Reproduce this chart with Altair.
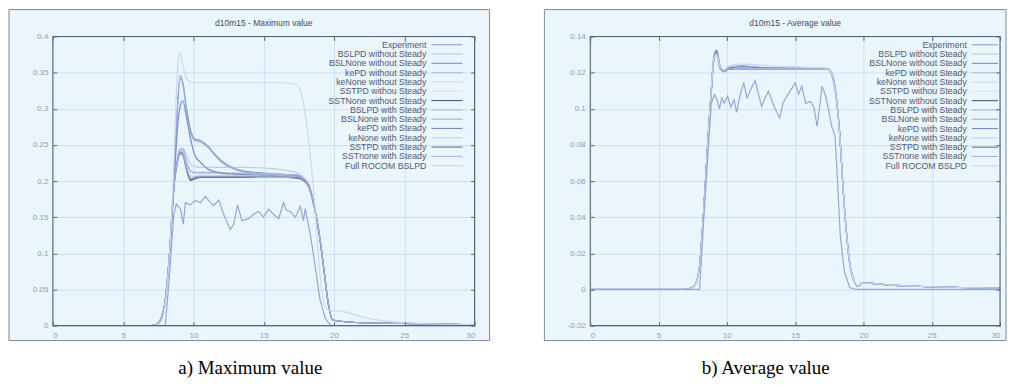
import altair as alt
import pandas as pd

SERIES = ["Experiment", "BSLPD without Steady", "BSLNone without Steady", "kePD without Steady",
          "keNone without Steady", "SSTPD withou Steady", "SSTNone without Steady", "BSLPD with Steady",
          "BSLNone with Steady", "kePD with Steady", "keNone with Steady", "SSTPD with Steady",
          "SSTnone with Steady", "Full ROCOM BSLPD"]
COLORS = ["#93a8d8", "#bccdec", "#8299cf", "#adc0e8", "#cddbf2", "#d8e3f5", "#525f82", "#a7badf",
          "#9db0de", "#7a8ec6", "#c2d1ee", "#62719f", "#a2b5e1", "#c8d6f0"]
WIDTHS = [1.2, 1.1, 1.8, 1.1, 1.1, 1.1, 2.0, 1.1, 1.4, 1.6, 1.1, 1.8, 1.1, 1.1]

X_TICKS = [0, 5, 10, 15, 20, 25, 30]
MAX_TICKS = [0, 0.05, 0.1, 0.15, 0.2, 0.25, 0.3, 0.35, 0.4]
AVG_TICKS = [-0.02, 0, 0.02, 0.04, 0.06, 0.08, 0.1, 0.12, 0.14]

# common time grid of the simulated curves
X = [0, 7.0, 7.4, 7.7, 8.0, 8.3, 8.6, 8.85, 9.05, 9.25, 9.5, 9.8, 10.1, 10.5, 11.0, 11.5, 12.0,
     12.7, 13.5, 15.0, 16.5, 17.4, 17.8, 18.2, 18.6, 19.0, 19.3, 19.6, 19.9, 20.5, 22.0, 25.0, 30.0]

# ---------------- Maximum value ----------------
MAX_EXP_X = [0, 8.0, 8.3, 8.6, 8.79, 9.08, 9.27, 9.43, 9.78, 10.14, 10.5, 10.85, 11.09, 11.44, 11.8,
             12.15, 12.62, 12.86, 13.14, 13.45, 13.92, 14.28, 14.63, 14.99, 15.35, 15.7, 16.06, 16.41,
             16.6, 16.88, 17.24, 17.6, 17.83, 17.95, 18.3, 18.66, 19.0, 19.4, 19.8, 30]
MAX_EXP_Y = [0, 0, 0.07, 0.154, 0.168, 0.161, 0.140, 0.170, 0.167, 0.173, 0.170, 0.179, 0.173, 0.166,
             0.174, 0.154, 0.133, 0.140, 0.167, 0.145, 0.148, 0.154, 0.158, 0.150, 0.161, 0.154, 0.148,
             0.170, 0.160, 0.158, 0.150, 0.165, 0.145, 0.162, 0.128, 0.082, 0.036, 0.009, 0.0, 0.0]
MAX_BSLPD_WO = [0, 0, 0.002, 0.01, 0.035, 0.10, 0.19, 0.232, 0.245, 0.246, 0.236, 0.224, 0.220,
                0.219, 0.219, 0.219, 0.219, 0.219, 0.219, 0.218, 0.215, 0.211,
                0.205, 0.195, 0.166, 0.121, 0.075, 0.03, 0.008, 0.006, 0.004, 0.003, 0.001]
MAX_BSLNONE_WO = [0, 0, 0.002, 0.01, 0.035, 0.10, 0.19, 0.30, 0.346, 0.336, 0.302, 0.27, 0.258,
                  0.256, 0.249, 0.238, 0.228, 0.219, 0.214, 0.211, 0.209, 0.208,
                  0.204, 0.195, 0.166, 0.121, 0.075, 0.03, 0.008, 0.006, 0.004, 0.003, 0.001]
MAX_KEPD_WO = [0, 0, 0.002, 0.01, 0.035, 0.10, 0.19, 0.23, 0.244, 0.243, 0.226, 0.213, 0.211,
               0.211, 0.211, 0.211, 0.211, 0.210, 0.210, 0.210, 0.209, 0.208,
               0.204, 0.194, 0.165, 0.12, 0.075, 0.03, 0.008, 0.006, 0.004, 0.003, 0.001]
MAX_KENONE_WO = [0, 0, 0.002, 0.01, 0.035, 0.10, 0.19, 0.265, 0.300, 0.307, 0.287, 0.256, 0.235,
                 0.225, 0.216, 0.212, 0.210, 0.209, 0.209, 0.208, 0.207, 0.206,
                 0.203, 0.194, 0.165, 0.12, 0.074, 0.03, 0.008, 0.006, 0.004, 0.003, 0.001]
MAX_SSTPD_WO = [0, 0, 0.002, 0.01, 0.035, 0.10, 0.19, 0.228, 0.242, 0.241, 0.222, 0.208, 0.207,
                0.208, 0.208, 0.208, 0.208, 0.208, 0.207, 0.207, 0.207, 0.206,
                0.203, 0.193, 0.164, 0.12, 0.074, 0.03, 0.008, 0.006, 0.004, 0.003, 0.001]
MAX_SSTNONE_WO = [0, 0, 0.002, 0.01, 0.035, 0.10, 0.19, 0.225, 0.238, 0.236, 0.216, 0.201, 0.203,
                  0.205, 0.205, 0.205, 0.205, 0.205, 0.205, 0.205, 0.205, 0.204,
                  0.201, 0.192, 0.163, 0.119, 0.074, 0.029, 0.008, 0.006, 0.004, 0.003, 0.001]
MAX_BSLPD_W = [0, 0, 0.002, 0.01, 0.035, 0.10, 0.19, 0.228, 0.243, 0.244, 0.228, 0.214, 0.212,
               0.212, 0.212, 0.212, 0.211, 0.211, 0.211, 0.210, 0.209, 0.208,
               0.204, 0.194, 0.165, 0.12, 0.075, 0.03, 0.008, 0.006, 0.004, 0.003, 0.001]
MAX_BSLNONE_W = [0, 0, 0.002, 0.01, 0.035, 0.10, 0.19, 0.295, 0.342, 0.333, 0.298, 0.266, 0.256,
                 0.254, 0.247, 0.236, 0.226, 0.218, 0.213, 0.210, 0.209, 0.208,
                 0.204, 0.195, 0.165, 0.12, 0.074, 0.03, 0.008, 0.006, 0.004, 0.003, 0.001]
MAX_KEPD_W = [0, 0, 0.002, 0.01, 0.035, 0.10, 0.19, 0.27, 0.304, 0.311, 0.29, 0.258, 0.236,
              0.226, 0.217, 0.213, 0.211, 0.210, 0.209, 0.208, 0.207, 0.207,
              0.203, 0.194, 0.165, 0.12, 0.075, 0.03, 0.008, 0.006, 0.004, 0.003, 0.001]
MAX_KENONE_W = [0, 0, 0.002, 0.01, 0.035, 0.10, 0.19, 0.226, 0.239, 0.237, 0.217, 0.203, 0.204,
                0.206, 0.206, 0.206, 0.206, 0.206, 0.206, 0.205, 0.205, 0.205,
                0.202, 0.193, 0.164, 0.12, 0.074, 0.03, 0.008, 0.006, 0.004, 0.003, 0.001]
MAX_SSTPD_W = [0, 0, 0.002, 0.01, 0.035, 0.10, 0.19, 0.226, 0.240, 0.238, 0.218, 0.202, 0.204,
               0.206, 0.206, 0.206, 0.206, 0.206, 0.206, 0.206, 0.206, 0.205,
               0.202, 0.193, 0.164, 0.12, 0.074, 0.029, 0.008, 0.006, 0.004, 0.003, 0.001]
MAX_SSTNONE_W = [0, 0, 0.002, 0.01, 0.035, 0.10, 0.19, 0.227, 0.241, 0.239, 0.22, 0.205, 0.206,
                 0.207, 0.207, 0.207, 0.207, 0.207, 0.207, 0.207, 0.207, 0.206,
                 0.203, 0.194, 0.165, 0.12, 0.075, 0.03, 0.008, 0.006, 0.004, 0.003, 0.001]
MAX_ROCOM = [0, 0, 0.001, 0.006, 0.03, 0.10, 0.22, 0.35, 0.378, 0.36, 0.342, 0.337, 0.336,
             0.336, 0.336, 0.336, 0.336, 0.336, 0.336, 0.336, 0.336, 0.333,
             0.31, 0.255, 0.175, 0.07, 0.03, 0.022, 0.021, 0.02, 0.012, 0.004, 0.001]

# ---------------- Average value ----------------
AVG_EXP_X = [0, 8.0, 8.4, 8.86, 9.1, 9.29, 9.45, 9.64, 9.81, 10.05, 10.29, 10.53, 10.72, 11.0, 11.24,
             11.48, 11.77, 12.08, 12.32, 12.55, 12.8, 13.04, 13.27, 13.51, 13.87, 14.11, 14.47, 14.7,
             15.01, 15.25, 15.49, 15.77, 16.13, 16.37, 16.61, 16.97, 17.2, 17.44, 17.68, 17.92, 18.1,
             18.3, 18.6, 19.0, 19.5, 30]
AVG_EXP_Y = [0, 0, 0.05, 0.1032, 0.1078, 0.105, 0.100, 0.106, 0.103, 0.107, 0.101, 0.105, 0.098,
             0.1087, 0.1142, 0.106, 0.111, 0.1156, 0.108, 0.1013, 0.106, 0.1097, 0.105, 0.1004, 0.0949,
             0.1032, 0.1078, 0.1106, 0.1143, 0.108, 0.1124, 0.103, 0.104, 0.101, 0.0903, 0.1124, 0.108,
             0.100, 0.090, 0.085, 0.06, 0.03, 0.01, 0.001, 0.0, 0.0]
AVG_BSLPD_WO = [0, 0, 0.001, 0.003, 0.013, 0.043, 0.081, 0.109, 0.127, 0.131, 0.1225, 0.1208, 0.1222,
                0.1225, 0.1226, 0.1226, 0.1225, 0.1224, 0.1224, 0.1223, 0.1223,
                0.1222, 0.116, 0.092, 0.046, 0.014, 0.005, 0.0018, 0.0035, 0.0034, 0.0024, 0.0015, 0.0008]
AVG_BSLNONE_WO = [0, 0, 0.001, 0.003, 0.013, 0.043, 0.081, 0.110, 0.129, 0.1325, 0.124, 0.1212, 0.1225,
                  0.1232, 0.1238, 0.1236, 0.1232, 0.1228, 0.1226, 0.1225, 0.1224,
                  0.1223, 0.117, 0.093, 0.047, 0.015, 0.005, 0.0018, 0.0036, 0.0035, 0.0024, 0.0015, 0.0008]
AVG_KEPD_WO = [0, 0, 0.001, 0.003, 0.013, 0.043, 0.081, 0.108, 0.126, 0.130, 0.1222, 0.1205, 0.1218,
               0.1221, 0.1222, 0.1222, 0.1222, 0.1221, 0.1221, 0.1221, 0.1221,
               0.1220, 0.115, 0.091, 0.045, 0.014, 0.005, 0.0017, 0.0034, 0.0033, 0.0023, 0.0015, 0.0008]
AVG_KENONE_WO = [0, 0, 0.001, 0.003, 0.013, 0.043, 0.081, 0.109, 0.128, 0.1315, 0.1232, 0.121, 0.1223,
                 0.1228, 0.123, 0.123, 0.1228, 0.1226, 0.1225, 0.1224, 0.1223,
                 0.1222, 0.116, 0.092, 0.046, 0.014, 0.005, 0.0018, 0.0035, 0.0034, 0.0024, 0.0015, 0.0008]
AVG_SSTPD_WO = [0, 0, 0.001, 0.003, 0.013, 0.043, 0.081, 0.108, 0.1265, 0.1305, 0.1226, 0.1206, 0.1219,
                0.1222, 0.1223, 0.1223, 0.1222, 0.1222, 0.1222, 0.1221, 0.1221,
                0.1221, 0.116, 0.092, 0.046, 0.014, 0.005, 0.0018, 0.0035, 0.0034, 0.0024, 0.0015, 0.0008]
AVG_SSTNONE_WO = [0, 0, 0.001, 0.003, 0.013, 0.043, 0.081, 0.109, 0.1275, 0.1318, 0.1228, 0.1206, 0.122,
                  0.1222, 0.1222, 0.1222, 0.1222, 0.1222, 0.1222, 0.1222, 0.1222,
                  0.1222, 0.116, 0.092, 0.046, 0.014, 0.005, 0.0018, 0.0035, 0.0034, 0.0024, 0.0015, 0.0008]
AVG_BSLPD_W = [0, 0, 0.001, 0.003, 0.013, 0.043, 0.081, 0.109, 0.127, 0.1312, 0.1227, 0.1209, 0.1222,
               0.1226, 0.1227, 0.1226, 0.1225, 0.1224, 0.1223, 0.1223, 0.1223,
               0.1222, 0.116, 0.092, 0.046, 0.014, 0.005, 0.0018, 0.0035, 0.0034, 0.0024, 0.0015, 0.0008]
AVG_BSLNONE_W = [0, 0, 0.001, 0.003, 0.013, 0.043, 0.081, 0.110, 0.1285, 0.132, 0.1236, 0.1212, 0.1226,
                 0.1234, 0.1236, 0.1234, 0.1231, 0.1227, 0.1225, 0.1224, 0.1224,
                 0.1223, 0.117, 0.093, 0.047, 0.015, 0.005, 0.0018, 0.0036, 0.0035, 0.0024, 0.0015, 0.0008]
AVG_KEPD_W = [0, 0, 0.001, 0.003, 0.013, 0.043, 0.081, 0.109, 0.128, 0.1322, 0.1233, 0.121, 0.1224,
              0.123, 0.1232, 0.1231, 0.1229, 0.1226, 0.1225, 0.1224, 0.1223,
              0.1222, 0.116, 0.092, 0.046, 0.014, 0.005, 0.0018, 0.0035, 0.0034, 0.0024, 0.0015, 0.0008]
AVG_KENONE_W = [0, 0, 0.001, 0.003, 0.013, 0.043, 0.081, 0.108, 0.1268, 0.1308, 0.1225, 0.1206, 0.122,
                0.1223, 0.1224, 0.1224, 0.1223, 0.1222, 0.1222, 0.1222, 0.1222,
                0.1221, 0.116, 0.092, 0.046, 0.014, 0.005, 0.0018, 0.0035, 0.0034, 0.0024, 0.0015, 0.0008]
AVG_SSTPD_W = [0, 0, 0.001, 0.003, 0.013, 0.043, 0.081, 0.109, 0.1272, 0.1314, 0.1226, 0.1205, 0.1219,
               0.1221, 0.1222, 0.1222, 0.1222, 0.1222, 0.1221, 0.1221, 0.1221,
               0.1221, 0.116, 0.092, 0.046, 0.014, 0.005, 0.0018, 0.0035, 0.0034, 0.0024, 0.0015, 0.0008]
AVG_SSTNONE_W = [0, 0, 0.001, 0.003, 0.013, 0.043, 0.081, 0.1085, 0.127, 0.131, 0.1226, 0.1207, 0.122,
                 0.1222, 0.1223, 0.1223, 0.1222, 0.1222, 0.1222, 0.1222, 0.1222,
                 0.1222, 0.116, 0.092, 0.046, 0.014, 0.005, 0.0018, 0.0035, 0.0034, 0.0024, 0.0015, 0.0008]
AVG_ROCOM = [0, 0, 0.001, 0.003, 0.013, 0.043, 0.081, 0.110, 0.128, 0.130, 0.1235, 0.1215, 0.1235,
             0.1245, 0.1248, 0.1247, 0.1245, 0.1240, 0.1235, 0.1232, 0.1228,
             0.1225, 0.116, 0.092, 0.046, 0.014, 0.005, 0.0018, 0.0035, 0.0034, 0.0024, 0.0015, 0.0008]

MAX_SIM = [MAX_BSLPD_WO, MAX_BSLNONE_WO, MAX_KEPD_WO, MAX_KENONE_WO, MAX_SSTPD_WO, MAX_SSTNONE_WO,
           MAX_BSLPD_W, MAX_BSLNONE_W, MAX_KEPD_W, MAX_KENONE_W, MAX_SSTPD_W, MAX_SSTNONE_W, MAX_ROCOM]
AVG_SIM = [AVG_BSLPD_WO, AVG_BSLNONE_WO, AVG_KEPD_WO, AVG_KENONE_WO, AVG_SSTPD_WO, AVG_SSTNONE_WO,
           AVG_BSLPD_W, AVG_BSLNONE_W, AVG_KEPD_W, AVG_KENONE_W, AVG_SSTPD_W, AVG_SSTNONE_W, AVG_ROCOM]

FONT = "Liberation Sans"
AX_COL = "#6b778c"
TICK_COL = "#5a6783"
FRAME_COL = "#56627c"


def sim_frame(sims):
    rows = []
    for name, ys in zip(SERIES[1:], sims):
        for k, (xv, yv) in enumerate(zip(X, ys)):
            rows.append({"series": name, "x": xv, "y": yv, "k": k})
    return pd.DataFrame(rows)


def panel(sims, ex, ey, title, ydom, yticks, W, lg_top, lg_step, lg_tx, lg_x1, lg_x2,
          caption, cap_x, bg_x, bg_x2):
    H = 290
    xs = alt.Scale(domain=[0, 30], nice=False, zero=False)
    ys = alt.Scale(domain=ydom, nice=False, zero=False)
    col = alt.Color("series:N", scale=alt.Scale(domain=SERIES, range=COLORS), legend=None)
    sw = alt.StrokeWidth("series:N", scale=alt.Scale(domain=SERIES, range=WIDTHS), legend=None)

    one = pd.DataFrame({"t": [title]})
    bg = alt.Chart(one).mark_rect(fill="#c6e4f6", opacity=0.36).encode(
        x=alt.value(bg_x), x2=alt.value(bg_x2), y=alt.value(-27), y2=alt.value(H + 15))
    frame = alt.Chart(one).mark_rect(fill=None, stroke=FRAME_COL, strokeWidth=1.1).encode(
        x=alt.value(0), x2=alt.value(W), y=alt.value(0), y2=alt.value(H))
    edge = alt.Chart(one).mark_rect(fill=None, stroke="#7d8aa0", strokeWidth=1).encode(
        x=alt.value(bg_x), x2=alt.value(bg_x2), y=alt.value(-27), y2=alt.value(H + 15))

    lines = alt.Chart(sim_frame(sims)).mark_line(interpolate="monotone", clip=True).encode(
        x=alt.X("x:Q", scale=xs, axis=alt.Axis(values=X_TICKS, grid=True, gridColor="#cfe1f2",
                                              ticks=False, domain=False, labelPadding=6, title=None,
                                              labelExpr="toString(datum.value)")),
        y=alt.Y("y:Q", scale=ys, axis=alt.Axis(values=yticks, grid=True, gridColor="#cfe1f2",
                                              ticks=False, domain=False, labelPadding=5, title=None,
                                              labelExpr="toString(datum.value)")),
        color=col, strokeWidth=sw, order="k:Q", detail="series:N")

    exp = alt.Chart(pd.DataFrame({"series": SERIES[0], "x": ex, "y": ey})).mark_line(clip=True).encode(
        x=alt.X("x:Q", scale=xs, axis=None), y=alt.Y("y:Q", scale=ys, axis=None),
        color=col, strokeWidth=sw)

    leg = alt.Chart(pd.DataFrame({"series": SERIES, "i": list(range(len(SERIES)))})).transform_calculate(
        ly=f"{lg_top} - datum.i * {lg_step}", lx1=f"{lg_x1}", lx2=f"{lg_x2}", tx=f"{lg_tx}")

    tick_ax = dict(labels=False, domain=False, grid=False, ticks=True, tickSize=4, offset=-4,
                   tickColor=TICK_COL, tickWidth=1, title=None, zindex=1)
    rules = leg.mark_rule().encode(
        x=alt.X("lx1:Q", scale=xs, axis=alt.Axis(orient="top", values=X_TICKS, **tick_ax)),
        x2="lx2:Q",
        y=alt.Y("ly:Q", scale=ys, axis=alt.Axis(orient="right", values=yticks, **tick_ax)),
        color=col, strokeWidth=sw)
    texts = leg.mark_text(align="right", baseline="middle", fontSize=8.8, font=FONT,
                          color="#4f5a74").encode(
        x=alt.X("tx:Q", scale=xs, axis=alt.Axis(orient="bottom", values=X_TICKS, **tick_ax)),
        y=alt.Y("ly:Q", scale=ys, axis=alt.Axis(orient="left", values=yticks, **tick_ax)),
        text="series:N")

    ttl = alt.Chart(one).mark_text(fontSize=8.5, font=FONT, color="#3f4b62").encode(
        x=alt.value(W / 2), y=alt.value(-14), text="t:N")
    cap = alt.Chart(pd.DataFrame({"c": [caption]})).mark_text(
        fontSize=19, font="Liberation Serif", color="#000000").encode(
        x=alt.value(cap_x), y=alt.value(H + 43), text="c:N")

    return alt.layer(bg, edge, lines, exp, rules, texts, frame, ttl, cap).resolve_axis(
        x="independent", y="independent").properties(width=W, height=H)


left = panel(MAX_SIM, MAX_EXP_X, MAX_EXP_Y, "d10m15 - Maximum value", [0, 0.4], MAX_TICKS, 423,
             0.3886, 0.01287, 26.57, 26.93, 29.13, "a) Maximum value", 198, -44, 438)
right = panel(AVG_SIM, AVG_EXP_X, AVG_EXP_Y, "d10m15 - Average value", [-0.02, 0.14], AVG_TICKS, 411,
              0.1354, 0.00515, 27.57, 27.93, 29.85, "b) Average value", 176, -46, 417)

chart = alt.hconcat(left, right, spacing=53).properties(
    padding={"left": 0, "top": 0, "right": 0, "bottom": 0}, background="white"
).configure_view(stroke=None).configure_axis(
    labelFont=FONT, labelFontSize=8, labelColor=AX_COL)

chart.save("out.html", embed_options={"renderer": "svg", "actions": False})
